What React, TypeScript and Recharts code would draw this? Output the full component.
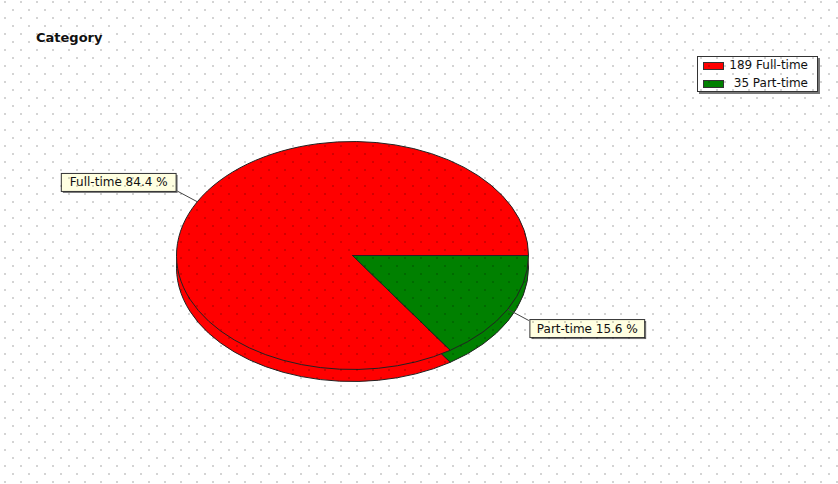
import React from 'react';
import { PieChart, Pie, Cell, Legend } from 'recharts';

const categories = ['Full-time', 'Part-time'];
const counts = [189, 35];
const colors = ['#FF0000', '#008000'];

const W = 838;
const H = 484;
const CX = 352.5;
const CY = 255.5;
const RX = 176;
const RY = 114;
const K = RY / RX;
const DEPTH = 12;
const RAD = Math.PI / 180;

const data = categories.map((name, i) => ({ name, value: counts[i] }));

const dotSvg = `<svg xmlns='http://www.w3.org/2000/svg' width='16' height='16'><rect x='4' y='1' width='2' height='2' fill='rgba(0,0,0,0.17)'/><rect x='12' y='9' width='2' height='2' fill='rgba(0,0,0,0.17)'/></svg>`;
const dotUrl = `url("data:image/svg+xml;utf8,${encodeURIComponent(dotSvg)}")`;

const css = `
body { margin: 0; }
.pie3d .recharts-pie-sector {
  transform-origin: 0 0;
  transform: translate(0px, ${CY}px) scale(1, ${K}) translate(0px, ${-CY}px);
}
.pie3d .recharts-pie-sector path { vector-effect: non-scaling-stroke; }
`;

const renderLabel = (props: any) => {
  const { cx, cy, midAngle, outerRadius, percent, name } = props;
  const c = Math.cos(-midAngle * RAD);
  const s = Math.sin(-midAngle * RAD);
  const sx = cx + outerRadius * c;
  const sy = cy + outerRadius * K * s;
  const ex = sx + 24 * c;
  const ey = sy + 24 * s;
  const text = `${name} ${(percent * 100).toFixed(1)} %`;
  const w = text.length * 6.3 + 14;
  const h = 18;
  const bx = c < 0 ? ex - w : ex + 1;
  const by = s < 0 ? ey + 1 - h : ey - 1;
  return (
    <g>
      <line x1={sx} y1={sy} x2={ex} y2={ey} stroke="#444" strokeWidth={1} />
      <rect x={bx + 1.5} y={by + 1.5} width={w} height={h} fill="#777" />
      <rect x={bx} y={by} width={w} height={h} fill="#FFFFE1" stroke="#333" strokeWidth={1} />
      <text
        x={bx + w / 2}
        y={by + h / 2}
        textAnchor="middle"
        dominantBaseline="central"
        fontFamily="DejaVu Sans"
        fontSize={12}
        fill="#111"
      >
        {text}
      </text>
    </g>
  );
};

const renderLegend = () => (
  <div
    style={{
      position: 'relative',
      width: 121,
      height: 36,
      boxSizing: 'border-box',
      border: '1px solid #333',
      background: '#fff',
      boxShadow: '2px 2px 0 #777',
      fontFamily: 'DejaVu Sans',
      fontSize: 12,
      color: '#111',
    }}
  >
    {categories.map((name, i) => (
      <React.Fragment key={name}>
        <div
          style={{
            position: 'absolute',
            left: 5,
            top: 4.5 + i * 18,
            width: 21,
            height: 8,
            boxSizing: 'border-box',
            border: '1px solid #333',
            background: colors[i],
          }}
        />
        <div
          style={{
            position: 'absolute',
            right: 9,
            top: i * 18,
            lineHeight: '17px',
            whiteSpace: 'pre',
          }}
        >
          {`${counts[i]} ${name}`}
        </div>
      </React.Fragment>
    ))}
  </div>
);

export default function App() {
  return (
    <div style={{ position: 'relative', width: W, height: H, background: '#fff', overflow: 'hidden' }}>
      <style>{css}</style>
      <div
        style={{
          position: 'absolute',
          left: 36,
          top: 29.5,
          fontFamily: 'DejaVu Sans',
          fontWeight: 'bold',
          fontSize: 13,
          lineHeight: '15px',
          color: '#111',
        }}
      >
        Category
      </div>
      <div className="pie3d" style={{ position: 'absolute', left: 0, top: 0 }}>
        <PieChart width={W} height={H} margin={{ top: 0, right: 0, bottom: 0, left: 0 }}>
          <Pie
            data={data}
            dataKey="value"
            nameKey="name"
            cx={CX}
            cy={CY + DEPTH / K}
            outerRadius={RX}
            startAngle={0}
            endAngle={360}
            stroke="#222"
            strokeWidth={1}
            isAnimationActive={false}
            legendType="none"
          >
            {data.map((d, i) => (
              <Cell key={d.name} fill={colors[i]} />
            ))}
          </Pie>
          <Pie
            data={data}
            dataKey="value"
            nameKey="name"
            cx={CX}
            cy={CY}
            outerRadius={RX}
            startAngle={0}
            endAngle={360}
            stroke="#222"
            strokeWidth={1}
            isAnimationActive={false}
            label={renderLabel}
            labelLine={false}
          >
            {data.map((d, i) => (
              <Cell key={d.name} fill={colors[i]} />
            ))}
          </Pie>
          <Legend
            content={renderLegend}
            wrapperStyle={{ position: 'absolute', left: 697, top: 56, width: 121, height: 36 }}
          />
        </PieChart>
      </div>
      <div
        style={{
          position: 'absolute',
          left: 0,
          top: 0,
          width: W,
          height: H,
          pointerEvents: 'none',
          backgroundImage: dotUrl,
          backgroundSize: '16px 16px',
        }}
      />
    </div>
  );
}
